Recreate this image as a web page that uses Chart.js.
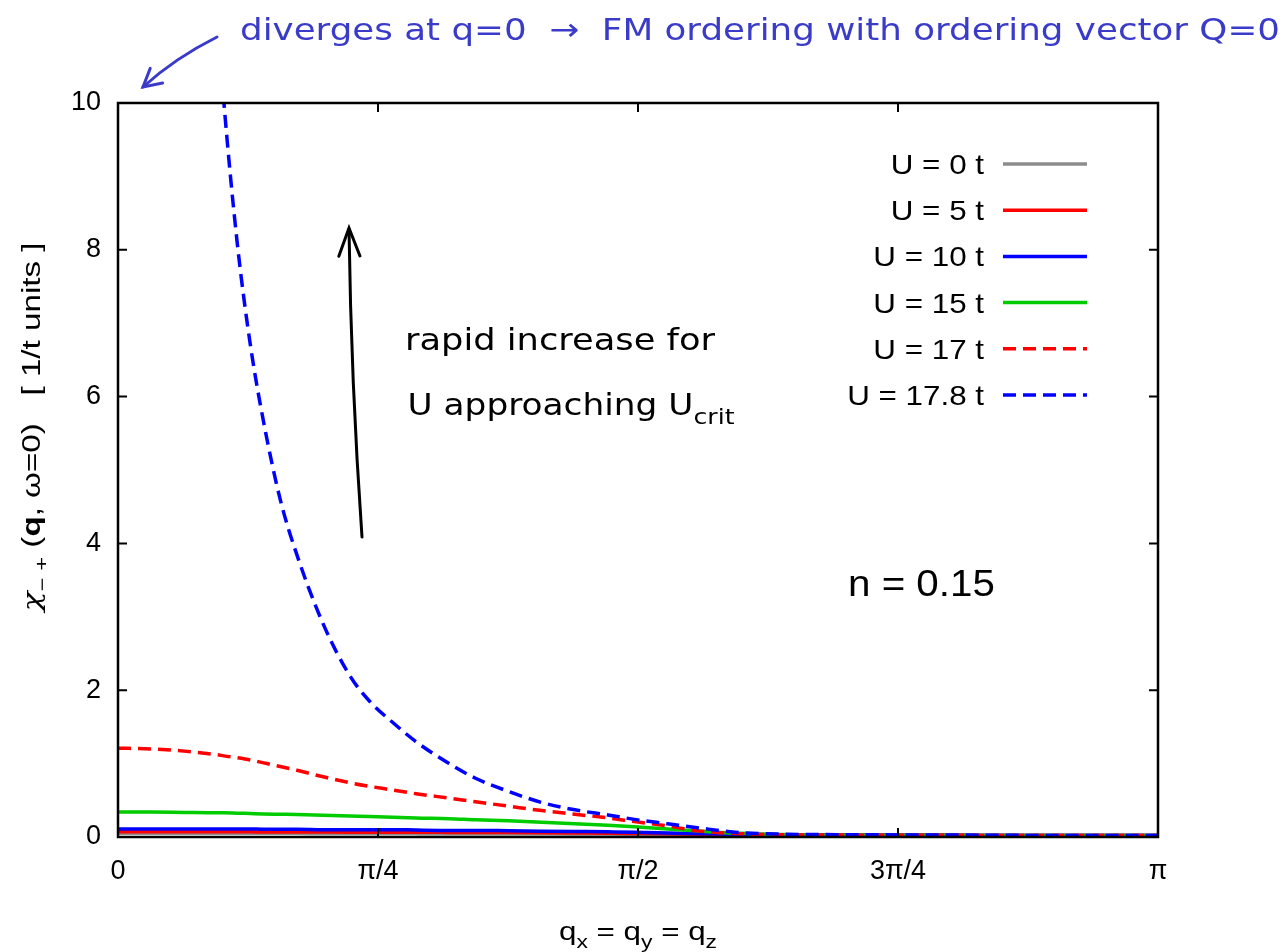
<!DOCTYPE html>
<html>
<head>
<meta charset="utf-8">
<script src="https://cdn.jsdelivr.net/npm/chart.js@4.4.1/dist/chart.umd.min.js"></script>
<style>
  html, body { margin: 0; padding: 0; background: #fff; }
  #wrap { width: 1287px; height: 952px; }
</style>
</head>
<body>
<div id="wrap"><canvas id="chiChart" width="1287" height="952"></canvas></div>
<script>
'use strict';

// q along the (1,1,1) direction, radians
const qValues = [0, 0.1, 0.2, 0.3, 0.32, 0.36, 0.4, 0.44, 0.49, 0.54, 0.62, 0.7, 0.76, 0.83, 0.9, 1.0,
                 1.08, 1.18, 1.28, 1.38, 1.48, 1.56, 1.66, 1.76, 1.88, 2.0, 2.3, 2.6, 2.9, 3.1416];

// chi_-+(q, w=0) in 1/t units, one array per U
const chiU0   = [0.05, 0.05, 0.05, 0.05, 0.05, 0.05, 0.05, 0.05, 0.05, 0.05, 0.048, 0.048, 0.047, 0.047, 0.046, 0.045,
                 0.045, 0.044, 0.043, 0.042, 0.04, 0.038, 0.035, 0.032, 0.03, 0.028, 0.025, 0.022, 0.02, 0.02];
const chiU5   = [0.07, 0.07, 0.07, 0.07, 0.07, 0.07, 0.07, 0.068, 0.068, 0.068, 0.067, 0.066, 0.066, 0.065, 0.064, 0.063,
                 0.062, 0.06, 0.058, 0.055, 0.052, 0.048, 0.043, 0.037, 0.032, 0.028, 0.025, 0.022, 0.02, 0.02];
const chiU10  = [0.11, 0.11, 0.11, 0.11, 0.11, 0.11, 0.11, 0.105, 0.105, 0.105, 0.1, 0.1, 0.1, 0.1, 0.095, 0.09,
                 0.09, 0.085, 0.08, 0.075, 0.07, 0.065, 0.055, 0.045, 0.035, 0.03, 0.025, 0.022, 0.02, 0.02];
const chiU15  = [0.34, 0.34, 0.335, 0.33, 0.33, 0.325, 0.32, 0.315, 0.31, 0.305, 0.295, 0.285, 0.28, 0.27, 0.26, 0.25,
                 0.235, 0.22, 0.2, 0.18, 0.16, 0.14, 0.11, 0.08, 0.05, 0.035, 0.025, 0.022, 0.02, 0.02];
const chiU17  = [1.21, 1.2, 1.17, 1.12, 1.105, 1.08, 1.05, 1.01, 0.96, 0.91, 0.82, 0.74, 0.69, 0.64, 0.59, 0.53,
                 0.48, 0.42, 0.36, 0.31, 0.26, 0.21, 0.15, 0.08, 0.045, 0.03, 0.025, 0.022, 0.02, 0.02];
const chiU178 = [null, null, null, 11.2, 10.0, 8.1, 6.7, 5.65, 4.6, 3.85, 2.9, 2.2, 1.85, 1.56, 1.3, 1.0,
                 0.8, 0.62, 0.47, 0.37, 0.3, 0.24, 0.18, 0.12, 0.06, 0.04, 0.03, 0.025, 0.02, 0.02];

const seriesLabels = ['U = 0 t', 'U = 5 t', 'U = 10 t', 'U = 15 t', 'U = 17 t', 'U = 17.8 t'];
const seriesColors = ['#8c8c8c', '#ff0000', '#0000ff', '#00cc00', '#ff0000', '#0000ff'];
const seriesDashed = [false, false, false, false, true, true];

const xTickValues = [0, Math.PI / 4, Math.PI / 2, 3 * Math.PI / 4, Math.PI];
const xTickLabels = ['0', 'π/4', 'π/2', '3π/4', 'π'];
const yTickValues = [0, 2, 4, 6, 8, 10];

const DASH = [13, 7];
const LABEL_FONT = '"Liberation Sans", Arial, Helvetica, sans-serif';
const GREEK_FONT = '"DejaVu Serif", serif';
const HAND_FONT = '"DejaVu Sans", "Noto Sans", sans-serif';
const STRETCH = 1.12;   // the key and labels are a little wider than plain Arial

function toPoints(ys) {
    return qValues.map((q, i) => ({ x: q, y: ys[i] }));
}

// fill text stretched horizontally by sx, anchored at x by align
function fillWide(ctx, text, x, y, sx, align) {
    const w = ctx.measureText(text).width * sx;
    const left = align === 'right' ? x - w : align === 'center' ? x - w / 2 : x;
    ctx.save();
    ctx.textAlign = 'left';
    ctx.translate(left, y);
    ctx.scale(sx, 1);
    ctx.fillText(text, 0, 0);
    ctx.restore();
}

// pieces with optional subscript / bold, squeezed or stretched to a target width, centred on x
function drawRich(ctx, parts, x, y, size, family, width) {
    const fontOf = (p) => (p.style ? p.style + ' ' : '') + (p.bold ? 'bold ' : '') +
        (p.sub ? Math.round(size * 0.72) : size) + 'px ' + (p.family || family);
    let total = 0;
    parts.forEach((p) => { ctx.font = fontOf(p); total += ctx.measureText(p.t).width; });
    const sx = width ? width / total : 1;
    ctx.save();
    ctx.translate(x - total * sx / 2, y);
    ctx.scale(sx, 1);
    ctx.textAlign = 'left';
    ctx.textBaseline = 'alphabetic';
    let cx = 0;
    parts.forEach((p) => {
        ctx.font = fontOf(p);
        ctx.fillText(p.t, cx, p.sub ? size * 0.3 : 0);
        cx += ctx.measureText(p.t).width;
    });
    ctx.restore();
}

function arrowHead(ctx, tipX, tipY, fromX, fromY, len, spread) {
    const a = Math.atan2(tipY - fromY, tipX - fromX);
    ctx.beginPath();
    ctx.moveTo(tipX - len * Math.cos(a - spread), tipY - len * Math.sin(a - spread));
    ctx.lineTo(tipX, tipY);
    ctx.lineTo(tipX - len * Math.cos(a + spread), tipY - len * Math.sin(a + spread));
    ctx.stroke();
}

const framePlugin = {
    id: 'gnuplotFrame',
    afterDraw(chart) {
        const { ctx, chartArea: a, scales } = chart;
        ctx.save();

        // border and inward mirrored ticks
        ctx.strokeStyle = '#000';
        ctx.lineWidth = 2.5;
        ctx.strokeRect(a.left, a.top, a.right - a.left, a.bottom - a.top);
        ctx.lineWidth = 2;
        const tl = 9;
        ctx.beginPath();
        xTickValues.forEach((v) => {
            const px = scales.x.getPixelForValue(v);
            ctx.moveTo(px, a.bottom); ctx.lineTo(px, a.bottom - tl);
            ctx.moveTo(px, a.top); ctx.lineTo(px, a.top + tl);
        });
        yTickValues.forEach((v) => {
            const py = scales.y.getPixelForValue(v);
            ctx.moveTo(a.left, py); ctx.lineTo(a.left + tl, py);
            ctx.moveTo(a.right, py); ctx.lineTo(a.right - tl, py);
        });
        ctx.stroke();

        // key, text right-aligned left of the sample line
        ctx.fillStyle = '#000';
        ctx.font = '28px ' + LABEL_FONT;
        ctx.textBaseline = 'alphabetic';
        seriesLabels.forEach((label, i) => {
            const y = 164 + i * 46.2;
            fillWide(ctx, label, 984, y + 10, STRETCH, 'right');
            ctx.strokeStyle = seriesColors[i];
            ctx.lineWidth = 3.5;
            ctx.setLineDash(seriesDashed[i] ? DASH : []);
            ctx.beginPath();
            ctx.moveTo(1003, y);
            ctx.lineTo(1087, y);
            ctx.stroke();
        });
        ctx.setLineDash([]);

        // n label
        ctx.font = '36px ' + LABEL_FONT;
        fillWide(ctx, 'n = 0.15', 848, 596, STRETCH, 'left');

        // axis titles
        drawRich(ctx, [{ t: 'q' }, { t: 'x', sub: true }, { t: ' = q' }, { t: 'y', sub: true },
                       { t: ' = q' }, { t: 'z', sub: true }], 638, 940, 26, LABEL_FONT, 158);
        ctx.save();
        ctx.translate(40, 427);
        ctx.rotate(-Math.PI / 2);
        drawRich(ctx, [{ t: 'χ', family: GREEK_FONT, style: 'italic' }, { t: '− +', sub: true }, { t: ' (' },
                       { t: 'q', bold: true }, { t: ', ω=0)   [ 1/t units ]' }], 0, 0, 25, LABEL_FONT, 369);
        ctx.restore();

        // hand-written notes
        ctx.fillStyle = '#3b3bc9';
        ctx.strokeStyle = '#3b3bc9';
        ctx.lineWidth = 3;
        ctx.lineCap = 'round';
        drawRich(ctx, [{ t: 'diverges at q=0  →  FM ordering with ordering vector Q=0' }],
                 760, 40, 31, HAND_FONT, 1040);
        ctx.beginPath();
        ctx.moveTo(217, 37);
        ctx.quadraticCurveTo(175, 58, 143, 87);
        ctx.stroke();
        arrowHead(ctx, 143, 87, 175, 60, 20, 0.5);

        ctx.fillStyle = '#000';
        ctx.strokeStyle = '#000';
        drawRich(ctx, [{ t: 'rapid increase for' }], 560, 350, 30, HAND_FONT, 310);
        drawRich(ctx, [{ t: 'U approaching U' }, { t: 'crit', sub: true }], 571, 415, 30, HAND_FONT, 327);
        ctx.lineWidth = 3;
        ctx.beginPath();
        ctx.moveTo(362, 537);
        ctx.quadraticCurveTo(351, 380, 349, 229);
        ctx.stroke();
        arrowHead(ctx, 349, 228, 350, 300, 30, 0.36);

        ctx.restore();
    }
};

const datasets = [chiU0, chiU5, chiU10, chiU15, chiU17, chiU178].map((ys, i) => ({
    label: seriesLabels[i],
    data: toPoints(ys),
    borderColor: seriesColors[i],
    borderWidth: 3.5,
    borderDash: seriesDashed[i] ? DASH : [],
    pointRadius: 0,
    fill: false,
    cubicInterpolationMode: 'monotone',
    order: 6 - i
}));

new Chart(document.getElementById('chiChart'), {
    type: 'line',
    data: { datasets: datasets },
    options: {
        responsive: false,
        animation: false,
        layout: { padding: { top: 103, right: 129, left: 0, bottom: 0 } },
        plugins: { legend: { display: false }, tooltip: { enabled: false } },
        scales: {
            x: {
                type: 'linear',
                min: 0,
                max: Math.PI,
                afterFit: (s) => { s.height = 115; },
                afterBuildTicks: (s) => { s.ticks = xTickValues.map((v) => ({ value: v })); },
                grid: { display: false, drawTicks: false },
                border: { display: false },
                ticks: {
                    padding: 18,
                    color: '#000',
                    font: { family: LABEL_FONT, size: 27 },
                    maxRotation: 0,
                    callback: (v) => {
                        const k = xTickValues.findIndex((t) => Math.abs(t - v) < 1e-6);
                        return k >= 0 ? xTickLabels[k] : '';
                    }
                }
            },
            y: {
                type: 'linear',
                min: 0,
                max: 10,
                afterFit: (s) => { s.width = 118; },
                afterBuildTicks: (s) => { s.ticks = yTickValues.map((v) => ({ value: v })); },
                grid: { display: false, drawTicks: false },
                border: { display: false },
                ticks: {
                    padding: 17,
                    color: '#000',
                    font: { family: LABEL_FONT, size: 27 }
                }
            }
        }
    },
    plugins: [framePlugin]
});
</script>
</body>
</html>
